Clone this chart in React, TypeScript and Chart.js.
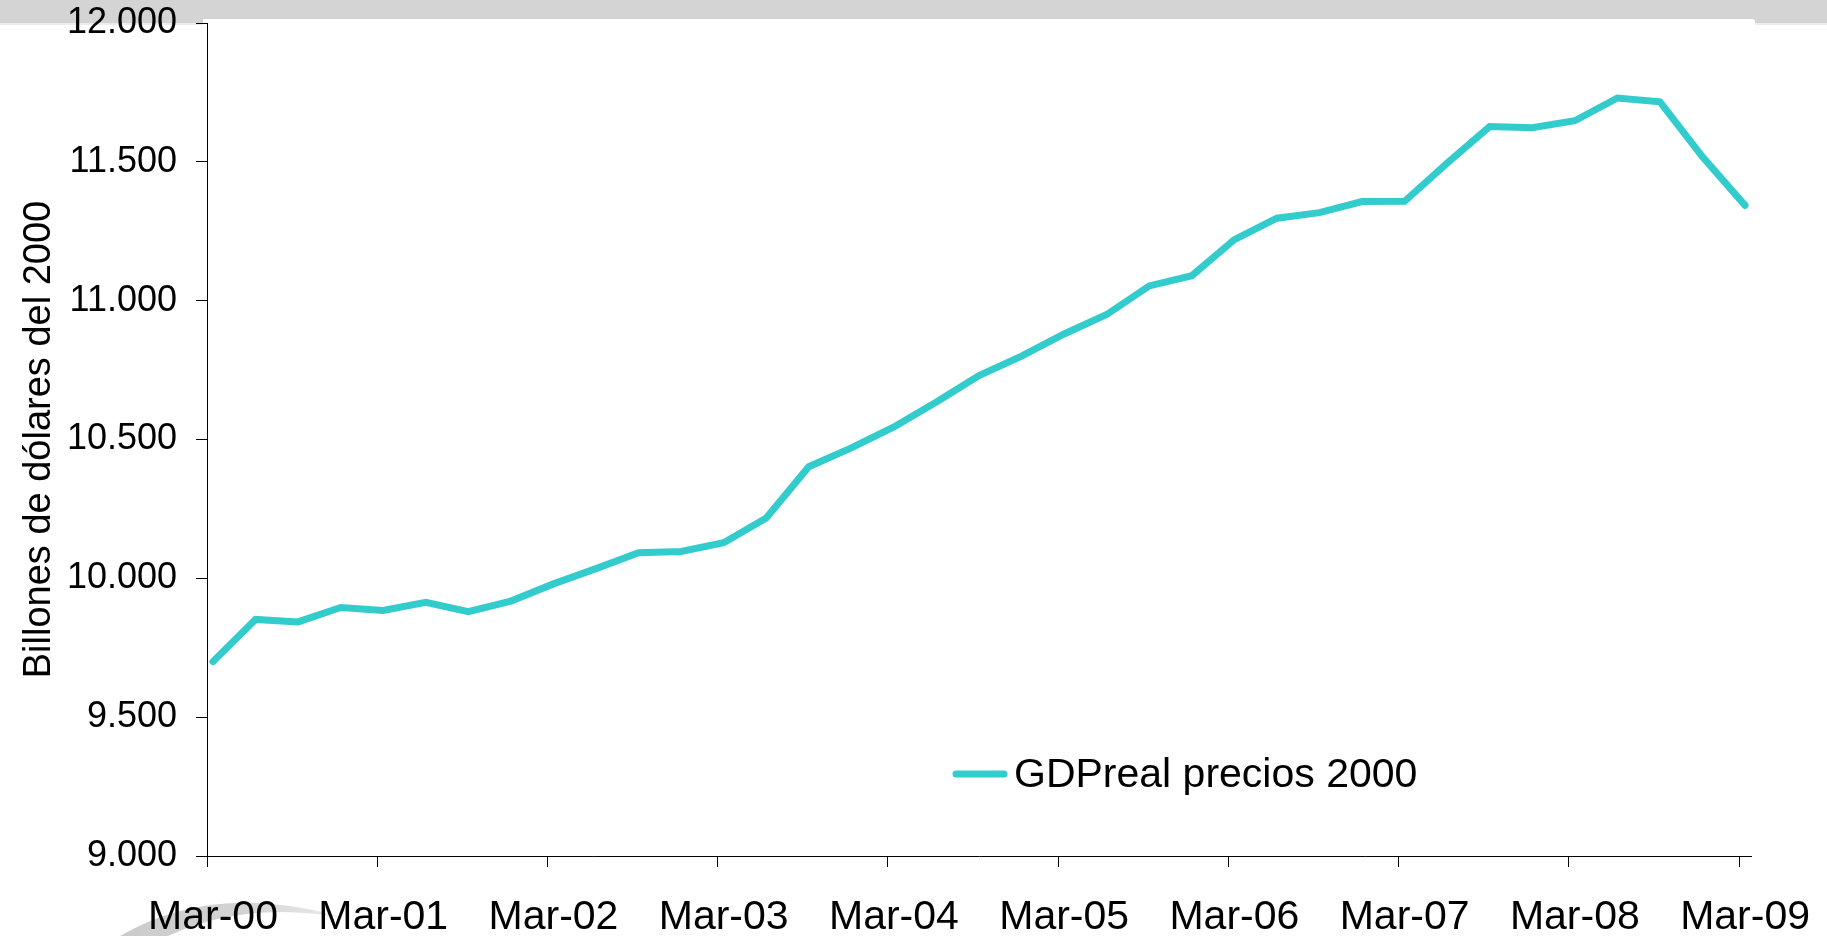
import React, { useEffect, useRef } from "react";
import { Chart, registerables } from "chart.js";

Chart.register(...registerables);

// Quarterly real GDP (billions of 2000 dollars), Mar-00 .. Mar-09
const quarters = [
  "Mar-00", "Jun-00", "Sep-00", "Dec-00",
  "Mar-01", "Jun-01", "Sep-01", "Dec-01",
  "Mar-02", "Jun-02", "Sep-02", "Dec-02",
  "Mar-03", "Jun-03", "Sep-03", "Dec-03",
  "Mar-04", "Jun-04", "Sep-04", "Dec-04",
  "Mar-05", "Jun-05", "Sep-05", "Dec-05",
  "Mar-06", "Jun-06", "Sep-06", "Dec-06",
  "Mar-07", "Jun-07", "Sep-07", "Dec-07",
  "Mar-08", "Jun-08", "Sep-08", "Dec-08",
  "Mar-09",
];
const gdpReal = [
  9700, 9852, 9843, 9895,
  9884, 9914, 9880, 9918,
  9980, 10035, 10092, 10097,
  10128, 10217, 10402, 10470,
  10545, 10635, 10730, 10800,
  10880, 10950, 11053, 11090,
  11220, 11297, 11317, 11357,
  11358, 11495, 11627, 11623,
  11648, 11730, 11716, 11518,
  11343,
];
const xTickLabels = ["Mar-00", "Mar-01", "Mar-02", "Mar-03", "Mar-04", "Mar-05", "Mar-06", "Mar-07", "Mar-08", "Mar-09"];
const xTickQuarterIdx = [0, 4, 8, 12, 16, 20, 24, 28, 32, 36];
const yTicks = [9000, 9500, 10000, 10500, 11000, 11500, 12000];
const seriesLabel = "GDPreal precios 2000";
const yTitle = "Billones de dólares del 2000";

const FONT = "'Liberation Sans', Arial, sans-serif";
const LINE_COLOR = "#33CCCC";
const X_SHIFT = -0.14;

const fmtThousands = (v: number) => {
  const s = Math.round(v).toString();
  return s.replace(/\B(?=(\d{3})+(?!\d))/g, ".");
};

const backgroundPlugin = {
  id: "slideBackground",
  beforeDraw(chart: any) {
    const ctx = chart.ctx as CanvasRenderingContext2D;
    const W = chart.width;
    const H = chart.height;
    ctx.save();
    ctx.fillStyle = "#ffffff";
    ctx.fillRect(0, 0, W, H);
    // grey header band
    ctx.fillStyle = "#d4d4d4";
    ctx.fillRect(0, 0, W, 23);
    ctx.fillStyle = "#ececec";
    ctx.fillRect(0, 23, W, 2);
    // white chart object
    ctx.fillStyle = "#ffffff";
    ctx.beginPath();
    const l = 203, t = 19, r = 1755, rad = 3;
    ctx.moveTo(l, t);
    ctx.lineTo(r - rad, t);
    ctx.quadraticCurveTo(r, t, r, t + rad);
    ctx.lineTo(r, H);
    ctx.lineTo(l, H);
    ctx.closePath();
    ctx.fill();
    // faint logo swoosh bottom-left
    const g = ctx.createLinearGradient(120, 0, 345, 0);
    g.addColorStop(0, "#cbcbcb");
    g.addColorStop(0.55, "#d3d3d3");
    g.addColorStop(1, "#ececec");
    ctx.fillStyle = g;
    ctx.beginPath();
    ctx.moveTo(120, 936);
    ctx.quadraticCurveTo(215, 880, 345, 918);
    ctx.quadraticCurveTo(245, 900, 168, 936);
    ctx.closePath();
    ctx.fill();
    ctx.restore();
  },
};

const legendPlugin = {
  id: "inlineLegend",
  afterDraw(chart: any) {
    const ctx = chart.ctx as CanvasRenderingContext2D;
    const ds = chart.data.datasets[0];
    ctx.save();
    ctx.strokeStyle = ds.borderColor;
    ctx.lineWidth = 7;
    ctx.lineCap = "round";
    ctx.beginPath();
    ctx.moveTo(956, 774);
    ctx.lineTo(1004, 774);
    ctx.stroke();
    ctx.fillStyle = "#000";
    ctx.font = `41px ${FONT}`;
    ctx.textBaseline = "middle";
    ctx.textAlign = "left";
    ctx.fillText(ds.label, 1014, 776);
    ctx.restore();
  },
};

export default function App() {
  const canvasRef = useRef<HTMLCanvasElement | null>(null);

  useEffect(() => {
    if (!canvasRef.current) return;
    const points = gdpReal.map((v, i) => ({ x: i, y: v }));
    const chart = new Chart(canvasRef.current, {
      type: "line",
      data: {
        labels: quarters,
        datasets: [
          {
            label: seriesLabel,
            data: points,
            borderColor: LINE_COLOR,
            backgroundColor: LINE_COLOR,
            borderWidth: 7,
            borderCapStyle: "round",
            borderJoinStyle: "miter",
            pointRadius: 0,
            tension: 0,
            fill: false,
          },
        ],
      },
      options: {
        responsive: false,
        animation: false,
        events: [],
        layout: { padding: { left: 0, right: 76, top: 23, bottom: 0 } },
        plugins: {
          legend: { display: false },
          tooltip: { enabled: false },
        },
        scales: {
          x: {
            type: "linear",
            min: X_SHIFT,
            max: 36.14,
            afterBuildTicks: (s: any) => {
              s.ticks = xTickQuarterIdx.map((q) => ({ value: q + X_SHIFT }));
            },
            afterFit: (s: any) => {
              s.height = 80;
              s.paddingLeft = 0;
              s.paddingRight = 0;
            },
            ticks: {
              autoSkip: false,
              maxRotation: 0,
              minRotation: 0,
              labelOffset: 6,
              padding: 26,
              color: "#000",
              font: { family: FONT, size: 41 },
              callback: (_v: any, i: number) => xTickLabels[i],
            },
            grid: {
              drawOnChartArea: false,
              drawTicks: true,
              tickLength: 11,
              tickColor: "#000",
              tickWidth: 1,
            },
            border: { display: true, color: "#000", width: 1 },
          },
          y: {
            min: 9000,
            max: 12000,
            afterBuildTicks: (s: any) => {
              s.ticks = yTicks.map((v) => ({ value: v }));
            },
            afterFit: (s: any) => {
              s.width = 207;
              s.paddingTop = 0;
              s.paddingBottom = 0;
            },
            ticks: {
              color: "#000",
              padding: 19,
              font: { family: FONT, size: 36 },
              callback: (v: any) => fmtThousands(Number(v)),
            },
            grid: {
              drawOnChartArea: false,
              drawTicks: true,
              tickLength: 11,
              tickColor: "#000",
              tickWidth: 1,
            },
            border: { display: true, color: "#000", width: 1 },
            title: {
              display: true,
              text: yTitle,
              color: "#000",
              font: { family: FONT, size: 38 },
              padding: { top: 17, bottom: 0 },
            },
          },
        },
      },
      plugins: [backgroundPlugin, legendPlugin],
    } as any);
    return () => chart.destroy();
  }, []);

  return (
    <div style={{ position: "fixed", left: 0, top: 0, width: 1827, height: 936, background: "#fff" }}>
      <canvas ref={canvasRef} width={1827} height={936} style={{ display: "block" }} />
    </div>
  );
}
